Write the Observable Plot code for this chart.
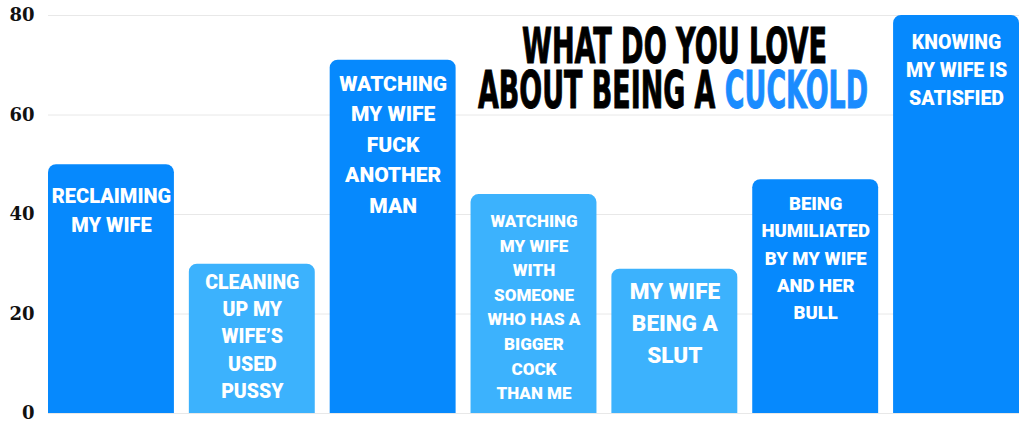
<!DOCTYPE html>
<html>
<head>
<meta charset="utf-8">
<script src="https://cdn.jsdelivr.net/npm/d3@7"></script>
<script src="https://cdn.jsdelivr.net/npm/@observablehq/plot@0.6"></script>
<style>
  html, body { margin: 0; padding: 0; background: #fff; }
  #wrap { position: relative; width: 1024px; height: 423px; }
  #title { position: absolute; left: 0; top: 0; pointer-events: none; }
</style>
</head>
<body>
<div id="wrap"></div>
<script>
// ---- data ----
const categories = [
  "RECLAIMING\nMY WIFE",
  "CLEANING\nUP MY\nWIFE’S\nUSED\nPUSSY",
  "WATCHING\nMY WIFE\nFUCK\nANOTHER\nMAN",
  "WATCHING\nMY WIFE\nWITH\nSOMEONE\nWHO HAS A\nBIGGER\nCOCK\nTHAN ME",
  "MY WIFE\nBEING A\nSLUT",
  "BEING\nHUMILIATED\nBY MY WIFE\nAND HER\nBULL",
  "KNOWING\nMY WIFE IS\nSATISFIED"
];
const values = [50, 30, 71, 44, 29, 47, 80];
const shade = ["dark", "light", "dark", "light", "light", "dark", "dark"];
const yTicks = [0, 20, 40, 60, 80];
const titleLine1 = "WHAT DO YOU LOVE";
const titleLine2a = "ABOUT BEING A ";
const titleLine2b = "CUCKOLD";

// ---- label styles (per bar) ----
const labelSize = [20, 19.5, 21, 17, 22.5, 18.5, 19.5];
const labelLeading = [29, 27.3, 30.5, 24.6, 32, 27.3, 28];
const labelOffset = [18, 5, 9, 15, 7, 11, 14];

const data = categories.map((c, i) => ({key: String(i), label: c, value: values[i], shade: shade[i], i}));

const colorScale = {domain: ["dark", "light"], range: ["#0689fd", "#3cb2fd"]};

const labelMarks = data.map(d => Plot.text([d], {
  x: "key", y: "value", text: "label",
  lineAnchor: "top", textAnchor: "middle",
  dy: labelOffset[d.i],
  fontSize: labelSize[d.i],
  lineHeight: labelLeading[d.i] / labelSize[d.i],
  fill: "white",
  fontWeight: 900,
  fontFamily: "Roboto"
}));

const chart = Plot.plot({
  width: 1024,
  height: 423,
  marginLeft: 48,
  marginRight: 5,
  marginTop: 15,
  marginBottom: 10,
  style: {background: "#fff"},
  x: {domain: data.map(d => d.key), paddingInner: 0.106, paddingOuter: 0, round: false, axis: null},
  y: {domain: [0, 80], ticks: yTicks, tickSize: 0, tickPadding: 14, label: null,
      tickFormat: d => String(d)},
  color: colorScale,
  marks: [
    Plot.gridY(yTicks, {stroke: "#e8e8e8", strokeOpacity: 1, strokeWidth: 1}),
    // rounded bars extended below zero; the frame clip squares off the bottom
    Plot.barY(data, {x: "key", y1: -4, y2: "value", fill: "shade", rx: 8, ry: 8, clip: true}),
    ...labelMarks
  ]
});

// style y tick labels
d3.select(chart).select("g[aria-label='y-axis tick label']")
  .attr("font-family", "DejaVu Serif").attr("font-weight", "bold").attr("font-size", 18)
  .attr("fill", "#111");

const wrap = document.getElementById("wrap");
wrap.appendChild(chart);

// title overlay
const t = d3.select(wrap).append("svg")
  .attr("id", "title").attr("width", 1024).attr("height", 423);
const tf = "'DejaVu Sans Condensed', 'DejaVu Sans'";
t.append("text")
  .attr("x", 522).attr("y", 63)
  .attr("font-family", tf).attr("font-weight", "bold").attr("font-size", 49)
  .attr("textLength", 305).attr("lengthAdjust", "spacingAndGlyphs")
  .attr("fill", "#000").attr("stroke", "#000").attr("stroke-width", 1)
  .text(titleLine1);
const l2 = t.append("text")
  .attr("x", 478).attr("y", 108)
  .attr("font-family", tf).attr("font-weight", "bold").attr("font-size", 51)
  .attr("textLength", 390).attr("lengthAdjust", "spacingAndGlyphs")
  .attr("fill", "#000").attr("stroke", "#000").attr("stroke-width", 1);
l2.append("tspan").text(titleLine2a);
l2.append("tspan").attr("fill", "#1a8cff").attr("stroke", "#1a8cff").text(titleLine2b);
</script>
</body>
</html>
